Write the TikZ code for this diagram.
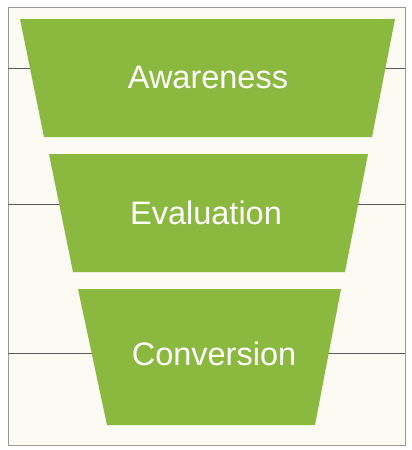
\documentclass[tikz,border=0pt]{standalone}
\usepackage{fontspec}
\setmainfont{Liberation Sans}
\definecolor{leaf}{HTML}{8BB83E}
\definecolor{paper}{HTML}{FBFAF3}
\definecolor{rule}{HTML}{5A5A5A}
\definecolor{frame}{HTML}{9A9A9A}
\begin{document}
\begin{tikzpicture}[x=1pt,y=-1pt,
	stage/.style={fill=leaf},
	label/.style={text=white,font=\fontsize{32.5}{32.5}\selectfont}]
		\useasboundingbox (0,0) rectangle (412,450);
		\fill[white] (0,0) rectangle (412,450);
		\filldraw[fill=paper,draw=frame,line width=0.8pt] (8,7) rectangle (405,445);
		
		% level lines behind the funnel
		\draw[rule,line width=1pt] (8,68) -- (405,68);
		\draw[rule,line width=1pt] (8,204) -- (405,204);
		\draw[rule,line width=1pt] (8,353) -- (405,353);
		
		\fill[stage] (20,19) -- (395,19) -- (372,137) -- (44,137) -- cycle;
		\fill[stage] (49,154) -- (368,154) -- (345,272) -- (73,272) -- cycle;
		\fill[stage] (78,289) -- (341,289) -- (315,425) -- (107,425) -- cycle;
		
		\node[label] (aware) at (208,77) {Awareness};
		\node[label] (eval) at (206,213) {Evaluation};
		\node[label] (conv) at (214,354) {Conversion};
	
	\end{tikzpicture}
\end{document}
